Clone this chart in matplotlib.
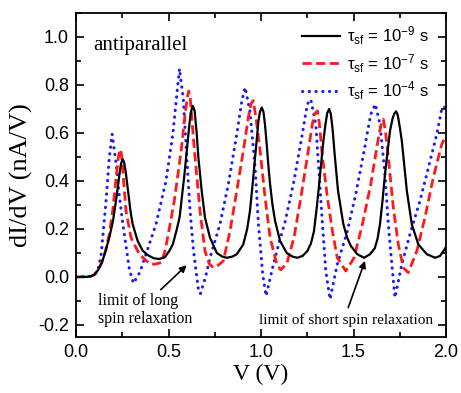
import matplotlib
matplotlib.use("Agg")
import matplotlib.pyplot as plt
from matplotlib.ticker import MultipleLocator

plt.rcParams["axes.unicode_minus"] = False
plt.rcParams["font.family"] = ["Liberation Sans", "DejaVu Sans"]
plt.rcParams["mathtext.fontset"] = "custom"
plt.rcParams["mathtext.rm"] = "Liberation Sans"
plt.rcParams["mathtext.it"] = "Liberation Sans"

# tau_sf = 1e-9 s (solid black)
v_short = [0.00, 0.05, 0.08, 0.10, 0.12, 0.14, 0.16, 0.18, 0.20, 0.22, 0.235, 0.243, 0.252,
           0.26, 0.268, 0.28, 0.295, 0.306, 0.333, 0.36, 0.39, 0.42, 0.45, 0.48, 0.505,
           0.523, 0.545, 0.56, 0.586, 0.609, 0.62, 0.631, 0.641, 0.652, 0.661, 0.679, 0.697,
           0.724, 0.761, 0.79, 0.815, 0.845, 0.869, 0.904, 0.925, 0.94, 0.955,
           0.968, 0.986, 0.994, 1.004, 1.013, 1.022, 1.032, 1.04, 1.049, 1.062, 1.076, 1.103,
           1.139, 1.17, 1.196, 1.225, 1.25, 1.27, 1.286, 1.30, 1.314, 1.337, 1.349, 1.358,
           1.368, 1.377, 1.387, 1.397, 1.416, 1.445, 1.465, 1.485, 1.52, 1.557, 1.589,
           1.615, 1.63, 1.643, 1.657, 1.67, 1.697, 1.711, 1.72, 1.73, 1.739, 1.75, 1.761,
           1.775, 1.788, 1.815, 1.85, 1.896, 1.941, 1.968, 1.986, 2.00]
g_short = [0.000, 0.000, 0.003, 0.010, 0.030, 0.060, 0.110, 0.165, 0.235, 0.340, 0.430, 0.472, 0.490,
           0.478, 0.440, 0.365, 0.270, 0.220, 0.150, 0.110, 0.090, 0.078, 0.075, 0.082, 0.110,
           0.136, 0.200, 0.250, 0.428, 0.608, 0.685, 0.713, 0.692, 0.600, 0.500, 0.360, 0.247,
           0.164, 0.100, 0.085, 0.080, 0.085, 0.095, 0.136, 0.200, 0.275, 0.390,
           0.500, 0.650, 0.688, 0.706, 0.688, 0.630, 0.540, 0.460, 0.386, 0.300, 0.233, 0.150,
           0.100, 0.085, 0.080, 0.088, 0.108, 0.140, 0.190, 0.280, 0.386, 0.567, 0.640, 0.683,
           0.700, 0.680, 0.615, 0.520, 0.360, 0.220, 0.165, 0.130, 0.095, 0.080, 0.095,
           0.120, 0.160, 0.220, 0.320, 0.428, 0.608, 0.660, 0.680, 0.690, 0.675, 0.625, 0.567,
           0.460, 0.360, 0.220, 0.136, 0.095, 0.080, 0.088, 0.108, 0.125]

# tau_sf = 1e-7 s (dashed red)
v_mid = [0.00, 0.08, 0.10, 0.12, 0.14, 0.16, 0.18, 0.198, 0.216, 0.229, 0.238, 0.245, 0.255,
         0.27, 0.297, 0.342, 0.396, 0.423, 0.46, 0.478, 0.495, 0.531, 0.568, 0.591, 0.602,
         0.609, 0.616, 0.631, 0.643, 0.67, 0.697, 0.72, 0.742, 0.77, 0.796, 0.832, 0.869,
         0.904, 0.931, 0.945, 0.958, 0.975, 0.995, 1.022, 1.049, 1.085, 1.106,
         1.139, 1.178, 1.215, 1.25, 1.277, 1.29, 1.305, 1.315, 1.332, 1.359, 1.386,
         1.412, 1.458, 1.503, 1.548, 1.593, 1.638, 1.652, 1.661, 1.672, 1.688, 1.715,
         1.742, 1.769, 1.796, 1.842, 1.886, 1.931, 1.977, 2.00]
g_mid = [0.000, 0.003, 0.010, 0.030, 0.065, 0.110, 0.180, 0.275, 0.410, 0.500, 0.532, 0.515, 0.420,
         0.275, 0.164, 0.095, 0.056, 0.053, 0.060, 0.100, 0.164, 0.317, 0.525, 0.690, 0.750,
         0.775, 0.755, 0.610, 0.500, 0.275, 0.108, 0.055, 0.039, 0.050, 0.067, 0.190, 0.360,
         0.525, 0.664, 0.720, 0.735, 0.650, 0.525, 0.330, 0.164, 0.053, 0.030,
         0.055, 0.164, 0.330, 0.500, 0.636, 0.680, 0.692, 0.640, 0.500, 0.330, 0.190,
         0.080, 0.025, 0.080, 0.220, 0.386, 0.595, 0.645, 0.657, 0.610, 0.500, 0.290,
         0.136, 0.039, 0.018, 0.108, 0.247, 0.414, 0.553, 0.590]

# tau_sf = 1e-4 s (dotted blue)
v_long = [0.00, 0.08, 0.10, 0.12, 0.135, 0.144, 0.162, 0.18, 0.195, 0.216, 0.234, 0.252,
          0.27, 0.288, 0.31, 0.345, 0.378, 0.432, 0.486, 0.523, 0.55, 0.559, 0.58,
          0.598, 0.616, 0.634, 0.661, 0.672, 0.70, 0.724, 0.778, 0.823, 0.869, 0.896,
          0.914, 0.94, 0.968, 0.986, 1.009, 1.027, 1.066, 1.10, 1.13, 1.178, 1.223,
          1.25, 1.269, 1.296, 1.314, 1.332, 1.35, 1.373, 1.412, 1.466, 1.512, 1.557,
          1.593, 1.618, 1.643, 1.67, 1.688, 1.707, 1.724, 1.761, 1.805, 1.859, 1.905,
          1.95, 1.977, 1.99, 2.00]
g_long = [0.000, 0.003, 0.010, 0.035, 0.090, 0.164, 0.317, 0.500, 0.595, 0.477, 0.337, 0.227,
          0.130, 0.032, -0.026, 0.020, 0.095, 0.220, 0.400, 0.595, 0.800, 0.868, 0.740,
          0.504, 0.280, 0.115, -0.050, -0.070, 0.000, 0.080, 0.220, 0.386, 0.595, 0.733,
          0.790, 0.690, 0.456, 0.220, 0.011, -0.079, 0.050, 0.150, 0.230, 0.400, 0.595,
          0.720, 0.740, 0.636, 0.428, 0.220, 0.025, -0.093, 0.053, 0.190, 0.345, 0.525,
          0.678, 0.720, 0.636, 0.428, 0.220, 0.053, -0.086, 0.053, 0.178, 0.317, 0.456,
          0.595, 0.700, 0.710, 0.700]

labels = [r"τ$_{\rm sf}$ = 10$^{-9}$ s", r"τ$_{\rm sf}$ = 10$^{-7}$ s", r"τ$_{\rm sf}$ = 10$^{-4}$ s"]

fig = plt.figure(figsize=(4.61, 3.93), dpi=100)
ax = fig.add_axes([0.165, 0.1425, 0.8025, 0.8245])

ax.plot(v_short, g_short, color="black", lw=1.6, label=labels[0], zorder=3)
ax.plot(v_mid, g_mid, color="#ff1a1a", lw=2.0, ls=(0, (3.3, 1.6)), label=labels[1], zorder=2)
ax.plot(v_long, g_long, color="#1a1aff", lw=2.2, ls=(0, (0.1, 2.1)),
        dash_capstyle="round", label=labels[2], zorder=1)

ax.set_xlim(0, 2.0)
ax.set_ylim(-0.25, 1.1)
ax.xaxis.set_major_locator(MultipleLocator(0.5))
ax.xaxis.set_minor_locator(MultipleLocator(0.25))
ax.yaxis.set_major_locator(MultipleLocator(0.2))
ax.yaxis.set_minor_locator(MultipleLocator(0.1))
ax.tick_params(which="both", direction="in", top=True, right=True, width=1.2)
ax.tick_params(which="major", length=6, labelsize=13, pad=5)
ax.tick_params(which="minor", length=3.5)
ax.set_xticks([0, 0.5, 1.0, 1.5, 2.0])
ax.set_xticklabels(["0.0", "0.5", "1.0", "1.5", "2.0"])
for s in ax.spines.values():
    s.set_linewidth(1.3)

ax.set_xlabel("V (V)", family="Liberation Serif", fontsize=17, labelpad=2)
ax.set_ylabel("dI/dV (nA/V)", family="Liberation Serif", fontsize=19, labelpad=4)

ax.text(0.046, 0.886, "antiparallel", transform=ax.transAxes,
        family="Liberation Serif", fontsize=15)

ax.annotate("limit of long\nspin relaxation", xy=(0.598, 0.049), xytext=(0.12, -0.19),
            family="Liberation Serif", fontsize=11.5, linespacing=1.1,
            arrowprops=dict(arrowstyle="-|>", color="black", lw=1.2,
                            shrinkA=1, shrinkB=0, mutation_scale=10,
                            relpos=(0.62, 1.0)))
ax.annotate("limit of short spin relaxation", xy=(1.562, 0.067), xytext=(0.99, -0.195),
            family="Liberation Serif", fontsize=11,
            arrowprops=dict(arrowstyle="-|>", color="black", lw=1.2,
                            shrinkA=2, shrinkB=0, mutation_scale=10,
                            relpos=(0.5, 1.0)))

ax.legend(loc="upper right", bbox_to_anchor=(0.985, 1.0), frameon=False, fontsize=12,
          handlelength=2.3, handletextpad=0.4, labelspacing=0.28, borderaxespad=0.3)

fig.savefig("out.png", dpi=100)
